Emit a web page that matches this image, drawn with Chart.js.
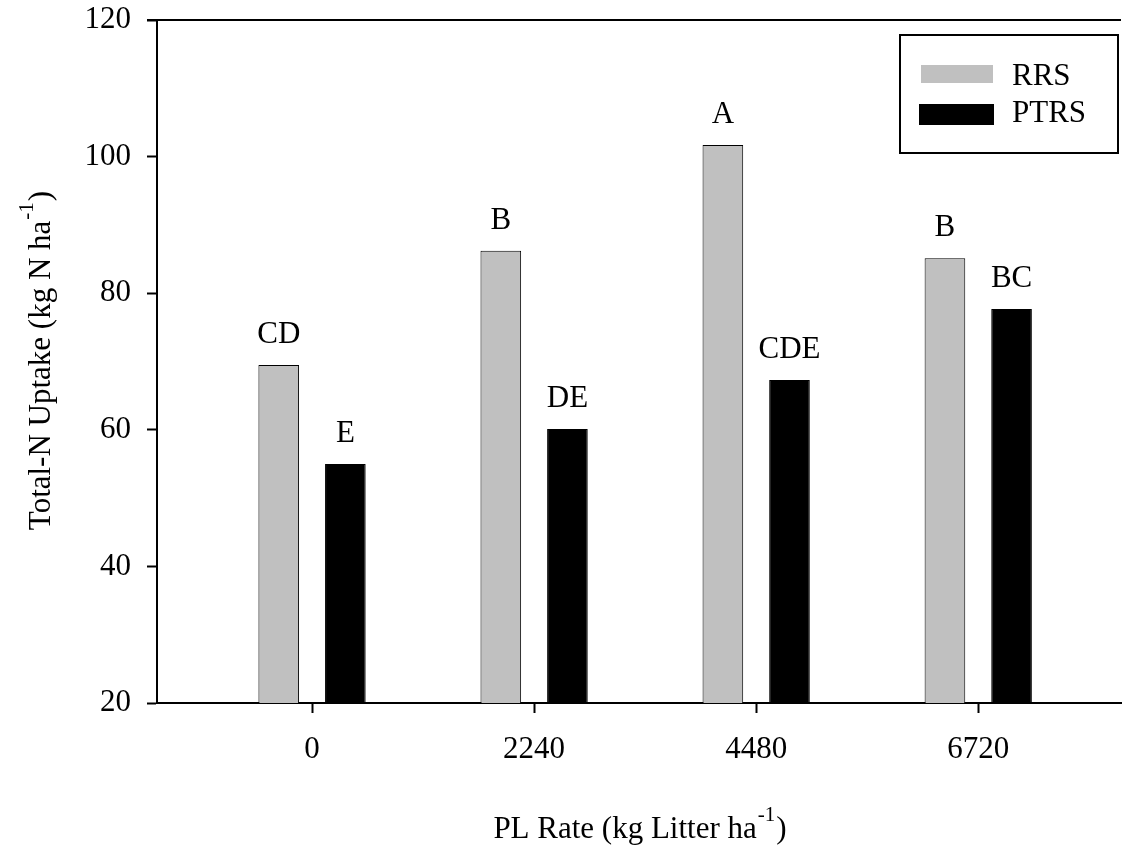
<!DOCTYPE html>
<html>
<head>
<meta charset="utf-8">
<script src="https://cdn.jsdelivr.net/npm/chart.js@4/dist/chart.umd.min.js"></script>
<style>
  body { margin: 0; background: #fff; }
  canvas { display: block; }
</style>
</head>
<body>
<canvas id="uptakeChart" width="1123" height="848"></canvas>
<script>
// PL rates (x positions) and tick labels
const rates = [0, 2240, 4480, 6720];
const seriesNames = ['RRS', 'PTRS'];
// Total-N uptake, kg N/ha
const rrsValues = [69.5, 86.2, 101.7, 85.1];
const ptrsValues = [55.0, 60.1, 67.3, 77.7];
// mean separation letters
const rrsLetters = ['CD', 'B', 'A', 'B'];
const ptrsLetters = ['E', 'DE', 'CDE', 'BC'];
const yTicks = [20, 40, 60, 80, 100, 120];

const FONT = '"Liberation Serif", "Times New Roman", serif';
const FS = 31;

// Draws letters, legend, top frame line and axis titles
const extrasPlugin = {
    id: 'extras',
    afterDraw(chart) {
        const ctx = chart.ctx;
        const area = chart.chartArea;
        ctx.save();

        // top frame line
        ctx.strokeStyle = '#000';
        ctx.lineWidth = 2;
        ctx.beginPath();
        ctx.moveTo(area.left - 10, area.top);
        ctx.lineTo(area.right, area.top);
        ctx.stroke();

        // letters above bars
        ctx.fillStyle = '#000';
        ctx.font = FS + 'px ' + FONT;
        ctx.textAlign = 'center';
        ctx.textBaseline = 'alphabetic';
        const letterSets = [rrsLetters, ptrsLetters];
        chart.data.datasets.forEach((ds, i) => {
            chart.getDatasetMeta(i).data.forEach((bar, j) => {
                ctx.fillText(letterSets[i][j], bar.x, bar.y - 22);
            });
        });

        // legend box
        ctx.lineWidth = 2;
        ctx.strokeRect(900, 35, 218, 118);
        ctx.fillStyle = chart.data.datasets[0].backgroundColor;
        ctx.fillRect(921, 65, 72, 18);
        ctx.fillStyle = chart.data.datasets[1].backgroundColor;
        ctx.fillRect(919, 104, 75, 21);
        ctx.fillStyle = '#000';
        ctx.textAlign = 'left';
        ctx.fillText(seriesNames[0], 1012, 85);
        ctx.fillText(seriesNames[1], 1012, 122);

        // x axis title with superscript
        const supFont = '21px ' + FONT;
        const mainFont = FS + 'px ' + FONT;
        const xa = 'PL Rate (kg Litter ha', xs = '-1', xb = ')';
        ctx.font = mainFont;
        const wa = ctx.measureText(xa).width, wb = ctx.measureText(xb).width;
        ctx.font = supFont;
        const ws = ctx.measureText(xs).width;
        let x = (area.left + area.right) / 2 - (wa + ws + wb) / 2;
        const base = 838;
        ctx.font = mainFont;
        ctx.fillText(xa, x, base);
        ctx.font = supFont;
        ctx.fillText(xs, x + wa + 1, base - 17);
        ctx.font = mainFont;
        ctx.fillText(xb, x + wa + ws + 2, base);

        // y axis title, rotated
        const ya = 'Total-N Uptake (kg N ha', ys = '-1', yb = ')';
        ctx.font = mainFont;
        const ywa = ctx.measureText(ya).width, ywb = ctx.measureText(yb).width;
        ctx.font = supFont;
        const yws = ctx.measureText(ys).width;
        ctx.translate(50, (area.top + area.bottom) / 2);
        ctx.rotate(-Math.PI / 2);
        x = -(ywa + yws + ywb) / 2;
        ctx.font = mainFont;
        ctx.fillText(ya, x, 0);
        ctx.font = supFont;
        ctx.fillText(ys, x + ywa + 1, -17);
        ctx.font = mainFont;
        ctx.fillText(yb, x + ywa + yws + 2, 0);

        ctx.restore();
    }
};

const ctx = document.getElementById('uptakeChart').getContext('2d');
new Chart(ctx, {
    type: 'bar',
    data: {
        datasets: [{
            label: seriesNames[0],
            data: rates.map((r, i) => ({ x: r, y: rrsValues[i] })),
            backgroundColor: '#c0c0c0',
            borderColor: '#000',
            borderWidth: 1
        }, {
            label: seriesNames[1],
            data: rates.map((r, i) => ({ x: r, y: ptrsValues[i] })),
            backgroundColor: '#000',
            borderColor: '#000',
            borderWidth: 1
        }]
    },
    options: {
        responsive: false,
        animation: false,
        categoryPercentage: 0.6,
        barPercentage: 0.61,
        layout: { padding: { top: 20, right: 2, left: 0, bottom: 0 } },
        plugins: {
            legend: { display: false },
            tooltip: { enabled: false }
        },
        scales: {
            x: {
                type: 'linear',
                offset: false,
                min: -1564,
                max: 8160,
                afterBuildTicks: scale => { scale.ticks = rates.map(v => ({ value: v })); },
                afterFit: scale => { scale.height = 145; },
                grid: {
                    offset: false,
                    drawOnChartArea: false,
                    drawTicks: true,
                    tickLength: 10,
                    tickWidth: 2,
                    color: '#000'
                },
                border: { display: true, color: '#000', width: 2 },
                ticks: {
                    color: '#000',
                    font: { family: FONT, size: FS },
                    padding: 18,
                    maxRotation: 0,
                    callback: v => String(v)
                }
            },
            y: {
                min: 20,
                max: 120,
                afterBuildTicks: scale => { scale.ticks = yTicks.map(v => ({ value: v })); },
                afterFit: scale => {
                    scale.width = 157;
                    scale.paddingTop = 0;
                    scale.paddingBottom = 0;
                },
                grid: {
                    drawOnChartArea: false,
                    drawTicks: true,
                    tickLength: 10,
                    tickWidth: 2,
                    color: '#000'
                },
                border: { display: true, color: '#000', width: 2 },
                ticks: {
                    color: '#000',
                    font: { family: FONT, size: FS },
                    padding: 16
                }
            }
        }
    },
    plugins: [extrasPlugin]
});
</script>
</body>
</html>
